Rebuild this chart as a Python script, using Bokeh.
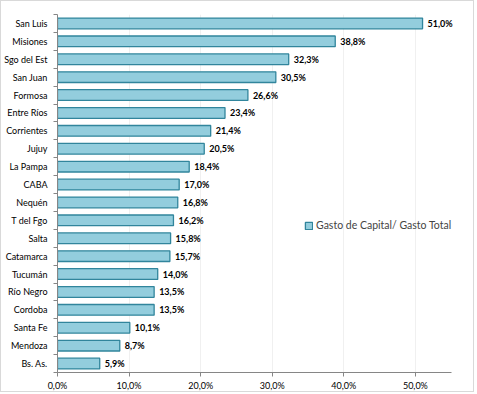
from bokeh.plotting import figure
from bokeh.models import ColumnDataSource, FixedTicker, Legend, CustomJSTickFormatter
from bokeh.core.properties import value
from bokeh.embed import file_html
from bokeh.resources import INLINE

provincias = ["San Luis", "Misiones", "Sgo del Est", "San Juan", "Formosa", "Entre Ríos",
              "Corrientes", "Jujuy", "La Pampa", "CABA", "Nequén", "T del Fgo", "Salta",
              "Catamarca", "Tucumán", "Río Negro", "Cordoba", "Santa Fe", "Mendoza", "Bs. As."]
gasto_capital = [51.0, 38.8, 32.3, 30.5, 26.6, 23.4, 21.4, 20.5, 18.4, 17.0, 16.8, 16.2, 15.8,
                 15.7, 14.0, 13.5, 13.5, 10.1, 8.7, 5.9]
x_ticks = [0, 10, 20, 30, 40, 50]
serie = "Gasto de Capital/ Gasto Total"

n = len(provincias)
ypos = [n - 0.5 - i for i in range(n)]
labels = [f"{v:.1f}%".replace(".", ",") for v in gasto_capital]

src = ColumnDataSource(dict(y=ypos, v=gasto_capital, lab=labels, name=provincias))

FONT = "Lato"
p = figure(width=474, height=392, output_backend="svg", toolbar_location=None,
           x_range=(0, 57), y_range=(0, n), min_border_left=52, min_border_top=13,
           min_border_right=10, min_border_bottom=17)
p.outline_line_color = None
p.styles = {"border": "1px solid #d9d9d9"}

r = p.hbar(y="y", right="v", left=0, height=0.6, source=src,
           fill_color="#93CDDD", line_color="#31859C", line_width=1.3)
p.text(x="v", y="y", text="lab", source=src, x_offset=5, text_baseline="middle",
       text_font=value(FONT), text_font_size="9px", text_font_style="bold", text_color="#000000")

# x axis
p.xaxis.ticker = FixedTicker(ticks=x_ticks)
p.xaxis.bounds = (0, 55)
p.xaxis.formatter = CustomJSTickFormatter(code="return tick.toFixed(1).replace('.', ',') + '%';")
p.xaxis.axis_line_color = "#868686"
p.xaxis.major_tick_line_color = "#868686"
p.xaxis.major_tick_out = 4
p.xaxis.major_tick_in = 0
p.xaxis.minor_tick_line_color = None
p.xaxis.major_label_text_font = FONT
p.xaxis.major_label_text_font_size = "9px"
p.xaxis.major_label_text_color = "#000000"
p.xaxis.major_label_standoff = 3

# y axis
p.yaxis.ticker = FixedTicker(ticks=ypos, minor_ticks=list(range(n + 1)))
p.yaxis.major_label_overrides = {y: name for y, name in zip(ypos, provincias)}
p.yaxis.axis_line_color = "#868686"
p.yaxis.major_tick_line_color = None
p.yaxis.minor_tick_line_color = "#868686"
p.yaxis.minor_tick_out = 4
p.yaxis.minor_tick_in = 0
p.yaxis.major_label_text_font = FONT
p.yaxis.major_label_text_font_size = "9px"
p.yaxis.major_label_text_color = "#000000"
p.yaxis.major_label_standoff = 4

p.xgrid.ticker = FixedTicker(ticks=x_ticks[1:])
p.xgrid.grid_line_color = "#f0f0f0"
p.ygrid.grid_line_color = None

legend = Legend(items=[(serie, [r])], location=(247, 141), border_line_color=None,
                background_fill_alpha=0, padding=0, margin=0, glyph_width=9, glyph_height=9,
                label_text_font=FONT, label_text_font_size="10.5px", label_standoff=3)
p.add_layout(legend)

open("out.html", "w").write(file_html(p, INLINE))
